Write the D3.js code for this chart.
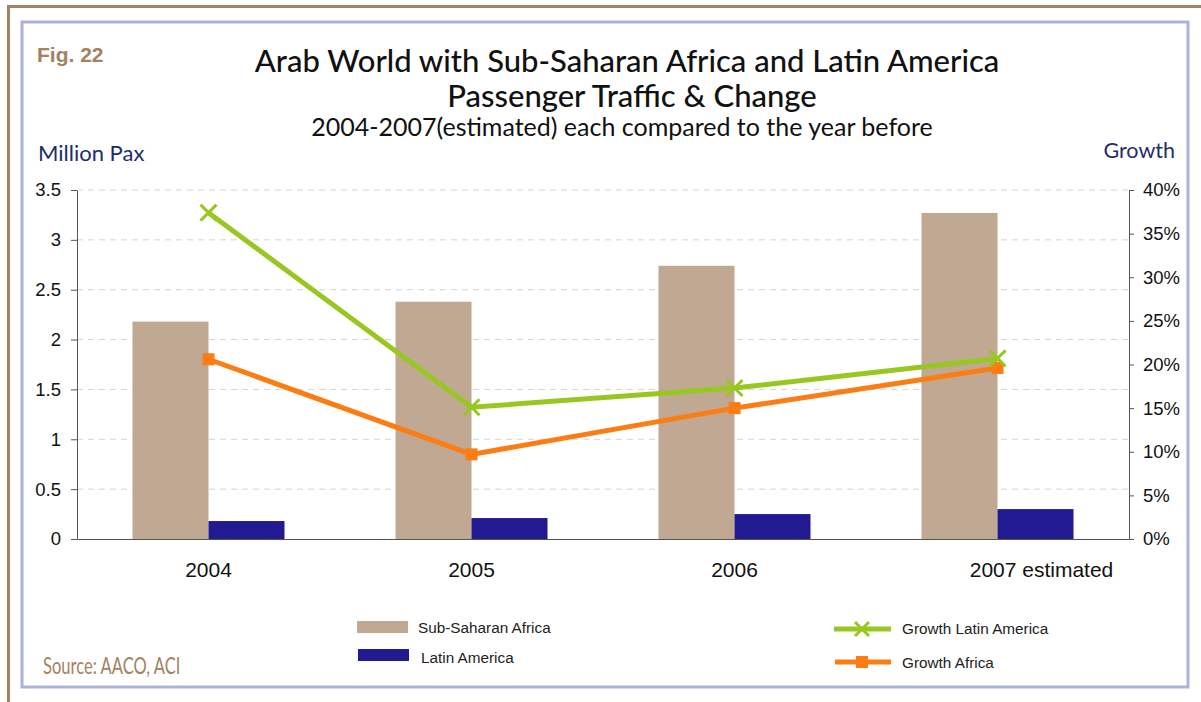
<!DOCTYPE html>
<html><head><meta charset="utf-8">
<script src="https://cdn.jsdelivr.net/npm/d3@7"></script>
<style>html,body{margin:0;padding:0;background:#fff;}svg{display:block;}</style>
</head><body>
<svg id="c" width="1201" height="702"></svg>
<script>
const categories = ["2004", "2005", "2006", "2007 estimated"];
const subSaharan = [2.18, 2.38, 2.74, 3.27];
const latinAmerica = [0.18, 0.21, 0.25, 0.30];
const growthLatin = [37.4, 15.1, 17.3, 20.7];
const growthAfrica = [20.6, 9.7, 15.0, 19.6];
const leftTicks = [0, 0.5, 1, 1.5, 2, 2.5, 3, 3.5];
const rightTicks = [0, 5, 10, 15, 20, 25, 30, 35, 40];

const svg = d3.select("#c");
const W = 1201, H = 702;
const m = {l: 77, r: 1129, t: 190, b: 539};

// frames
svg.append("path").attr("d", `M8.5,${H} L8.5,6.5 L${W},6.5`).attr("fill","none").attr("stroke","#a4825f").attr("stroke-width",3);
svg.append("rect").attr("x",22).attr("y",22).attr("width",1166).attr("height",665)
  .attr("fill","none").attr("stroke","#aab4dc").attr("stroke-width",3);

const x = d3.scaleBand().domain(categories).range([m.l, m.r]).padding(0);
const yL = d3.scaleLinear().domain([0, 3.5]).range([m.b, m.t]);
const yR = d3.scaleLinear().domain([0, 40]).range([m.b, m.t]);
const bw = 76;

// grid
svg.append("g").selectAll("line").data(leftTicks.filter(d => d > 0)).join("line")
  .attr("x1", m.l).attr("x2", m.r).attr("y1", d => yL(d)).attr("y2", d => yL(d))
  .attr("stroke", "#d4d4d4").attr("stroke-width", 1).attr("stroke-dasharray", "6,5");

// bars
const cx = c => x(c) + x.bandwidth() / 2;
svg.append("g").selectAll("rect").data(categories).join("rect")
  .attr("x", c => cx(c) - bw).attr("width", bw)
  .attr("y", (c, i) => yL(subSaharan[i])).attr("height", (c, i) => m.b - yL(subSaharan[i]))
  .attr("fill", "#c0a892");
svg.append("g").selectAll("rect").data(categories).join("rect")
  .attr("x", c => cx(c)).attr("width", bw)
  .attr("y", (c, i) => yL(latinAmerica[i])).attr("height", (c, i) => m.b - yL(latinAmerica[i]))
  .attr("fill", "#221a91");

// axes
const axisStyle = fs => g => {
  g.selectAll("path").attr("stroke", "#555");
  g.selectAll("line").attr("stroke", "#555");
  g.selectAll("text").attr("font-family", "Liberation Sans, Arial, sans-serif").attr("font-size", fs).attr("fill", "#111");
};
svg.append("g").attr("transform", `translate(${m.l},0)`)
  .call(d3.axisLeft(yL).tickValues(leftTicks).tickFormat(d => d).tickSize(6).tickSizeOuter(0).tickPadding(10))
  .call(axisStyle(18.5));
svg.append("g").attr("transform", `translate(${m.r},0)`)
  .call(d3.axisRight(yR).tickValues(rightTicks).tickFormat(d => d + "%").tickSize(5).tickSizeOuter(0).tickPadding(9))
  .call(axisStyle(18.5));
svg.append("g").attr("transform", `translate(0,${m.b})`)
  .call(d3.axisBottom(x).tickSize(0).tickPadding(23))
  .call(axisStyle(21))
  .call(g => g.selectAll(".tick text").filter(d => d === "2007 estimated").attr("dx", 44));

// lines
const lineGen = vals => d3.line().x((d, i) => cx(categories[i])).y(d => yR(d))(vals);
svg.append("path").attr("d", lineGen(growthAfrica)).attr("fill", "none").attr("stroke", "#fb7d13").attr("stroke-width", 5);
svg.append("path").attr("d", lineGen(growthLatin)).attr("fill", "none").attr("stroke", "#99c722").attr("stroke-width", 5);
svg.append("g").selectAll("rect").data(growthAfrica).join("rect")
  .attr("x", (d, i) => cx(categories[i]) - 6).attr("y", d => yR(d) - 6).attr("width", 12).attr("height", 12).attr("fill", "#fb7d13");
const xMark = (g, px, py, s) => {
  g.append("path").attr("d", `M${px-s},${py-s}L${px+s},${py+s}M${px-s},${py+s}L${px+s},${py-s}`)
    .attr("stroke", "#99c722").attr("stroke-width", 3).attr("fill", "none");
};
const gx = svg.append("g");
growthLatin.forEach((d, i) => xMark(gx, cx(categories[i]), yR(d), 8));

// titles
const tf = "Lato, 'Open Sans', sans-serif";
svg.append("text").attr("x", 37).attr("y", 62).text("Fig. 22").attr("font-family", "Liberation Sans, Arial, sans-serif")
  .attr("font-weight", "bold").attr("font-size", 21).attr("fill", "#a4825f");
svg.append("text").attr("x", 627).attr("y", 72).attr("text-anchor", "middle").text("Arab World with Sub-Saharan Africa and Latin America")
  .attr("font-family", tf).attr("font-size", 31).attr("font-weight", 500).attr("fill", "#111");
svg.append("text").attr("x", 632).attr("y", 107).attr("text-anchor", "middle").text("Passenger Traffic & Change")
  .attr("font-family", tf).attr("font-size", 31).attr("font-weight", 500).attr("fill", "#111");
svg.append("text").attr("x", 622).attr("y", 136).attr("text-anchor", "middle").text("2004-2007(estimated) each compared to the year before")
  .attr("font-family", tf).attr("font-size", 25).attr("fill", "#111");
svg.append("text").attr("x", 38).attr("y", 161).text("Million Pax").attr("font-family", tf).attr("font-size", 22).attr("fill", "#1c2d6e");
svg.append("text").attr("x", 1175).attr("y", 158).attr("text-anchor", "end").text("Growth").attr("font-family", tf).attr("font-size", 21.5).attr("fill", "#1c2d6e");
svg.append("text").attr("transform", "translate(43,674) scale(0.69,1)").text("Source: AACO, ACI")
  .attr("font-family", tf).attr("font-size", 24).attr("fill", "#a4825f");

// legend
const lf = "Liberation Sans, Arial, sans-serif";
svg.append("rect").attr("x", 357).attr("y", 621).attr("width", 51).attr("height", 12).attr("fill", "#c0a892");
svg.append("text").attr("x", 418).attr("y", 633).text("Sub-Saharan Africa").attr("font-family", lf).attr("font-size", 15.3).attr("fill", "#222");
svg.append("rect").attr("x", 358).attr("y", 649).attr("width", 51).attr("height", 12).attr("fill", "#221a91");
svg.append("text").attr("x", 421).attr("y", 663).text("Latin America").attr("font-family", lf).attr("font-size", 15.3).attr("fill", "#222");
svg.append("line").attr("x1", 834).attr("x2", 891).attr("y1", 629).attr("y2", 629).attr("stroke", "#99c722").attr("stroke-width", 5);
xMark(svg, 862, 629, 7);
svg.append("text").attr("x", 902).attr("y", 634).text("Growth Latin America").attr("font-family", lf).attr("font-size", 15.3).attr("fill", "#222");
svg.append("line").attr("x1", 835).attr("x2", 891).attr("y1", 662).attr("y2", 662).attr("stroke", "#fb7d13").attr("stroke-width", 5);
svg.append("rect").attr("x", 856).attr("y", 656).attr("width", 12).attr("height", 12).attr("fill", "#fb7d13");
svg.append("text").attr("x", 902).attr("y", 668).text("Growth Africa").attr("font-family", lf).attr("font-size", 15.3).attr("fill", "#222");
</script>
</body></html>
